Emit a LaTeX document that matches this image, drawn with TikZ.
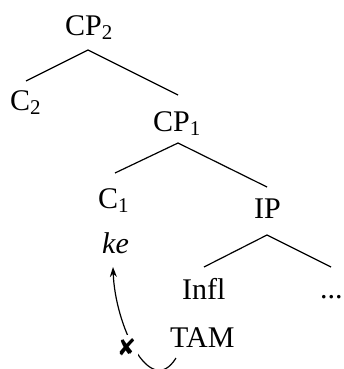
\documentclass[tikz,border=0pt]{standalone}
\usepackage{fontspec}
\setmainfont{Liberation Serif}
\usepackage{pifont}
\usetikzlibrary{arrows.meta}
\newcommand\mysub[1]{\raisebox{-4pt}{\fontsize{21}{21}\selectfont #1}}
\tikzset{
  lbl/.style={anchor=base west, inner sep=0pt, font=\fontsize{30}{36}\selectfont},
  branch/.style={line width=1.2pt},
}
\begin{document}
\begin{tikzpicture}[x=1pt,y=-1pt]
\useasboundingbox (0,0) rectangle (343,369);
\node[lbl] (CPtwo) at (65,36) {CP\mysub{2}};
\node[lbl] (Ctwo) at (10,110) {C\mysub{2}};
\node[lbl] (CPone) at (153,131) {CP\mysub{1}};
\node[lbl] (Cone) at (98,208) {C\mysub{1}};
\node[lbl] (IP) at (254,218) {IP};
\node[lbl] (ke) at (102,253) {\itshape ke};
\node[lbl] (Infl) at (182,299) {Infl};
\node[lbl] (dots) at (320,298) {...};
\node[lbl] (TAM) at (170,347) {TAM};
% attachment points
\coordinate (CPtwoB) at (88,50);
\coordinate (CtwoT) at (26,81);
\coordinate (CPoneT) at (178,95);
\coordinate (CPoneB) at (178,143);
\coordinate (ConeT) at (115,173);
\coordinate (IPT) at (267,187);
\coordinate (IPB) at (267,235);
\coordinate (InflT) at (204,267);
\coordinate (dotsT) at (331,267);
\draw[branch] (CtwoT) -- (CPtwoB) -- (CPoneT);
\draw[branch] (ConeT) -- (CPoneB) -- (IPT);
\draw[branch] (InflT) -- (IPB) -- (dotsT);
% movement arrow
\coordinate (arrS) at (176,358);
\coordinate (arrE) at (113,267);
\draw[line width=1.2pt, -{Stealth[length=10pt,width=7pt]}] (arrS) .. controls (150,400) and (115,325) .. (arrE);
\node[fill=white, inner sep=3pt, font=\fontsize{24}{24}\selectfont] (X) at (127,347) {\ding{56}};
\end{tikzpicture}
\end{document}
